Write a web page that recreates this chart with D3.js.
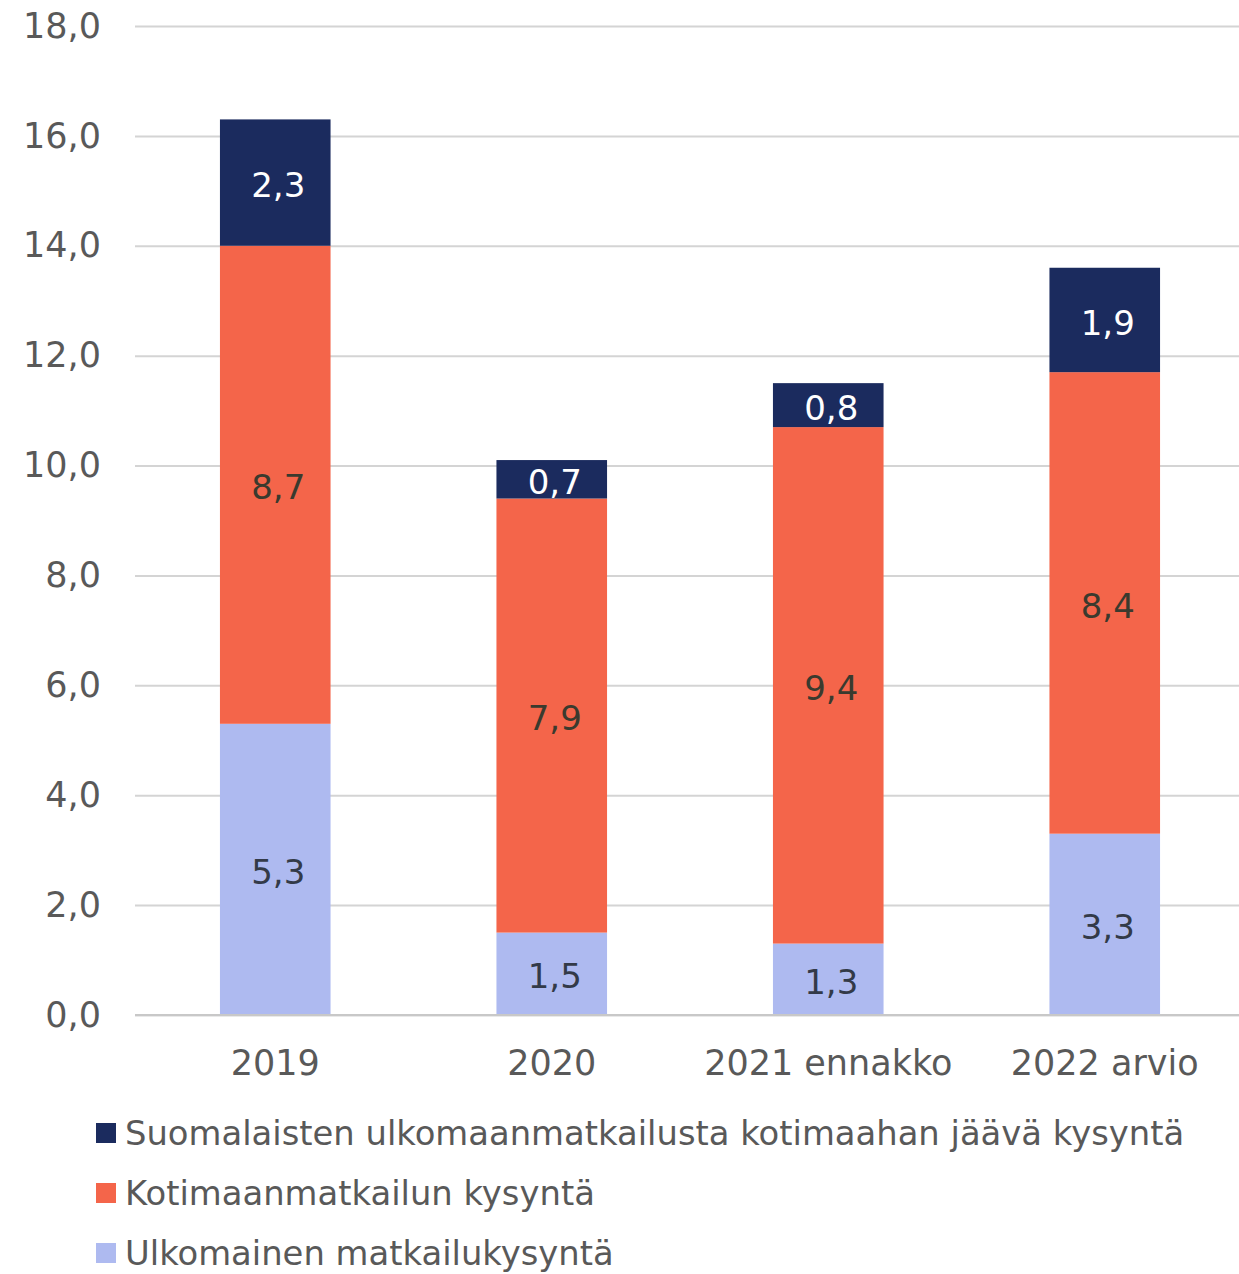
<!DOCTYPE html>
<html>
<head>
<meta charset="utf-8">
<script src="https://cdn.jsdelivr.net/npm/d3@7"></script>
<style>
  body { margin: 0; background: #fff; }
  svg { display: block; font-family: "DejaVu Sans", sans-serif; }
</style>
</head>
<body>
<div id="chart"></div>
<script>
// Data
const categories = ["2019", "2020", "2021 ennakko", "2022 arvio"];
const seriesNames = [
    "Ulkomainen matkailukysyntä",
    "Kotimaanmatkailun kysyntä",
    "Suomalaisten ulkomaanmatkailusta kotimaahan jäävä kysyntä"
];
const ulkomainen = [5.3, 1.5, 1.3, 3.3];
const kotimaan = [8.7, 7.9, 9.4, 8.4];
const jaava = [2.3, 0.7, 0.8, 1.9];
const yTicks = [0, 2, 4, 6, 8, 10, 12, 14, 16, 18];

const colors = ["#aebaf0", "#f4654a", "#1b2b5e"];
const labelColors = ["#333a48", "#3a3a2e", "#ffffff"];

const width = 1239;
const height = 1274;
const margin = { top: 26, right: 0, bottom: 259, left: 135 };

const rows = categories.map((c, i) => ({
    cat: c,
    s0: ulkomainen[i],
    s1: kotimaan[i],
    s2: jaava[i]
}));

const stack = d3.stack().keys(["s0", "s1", "s2"]);
const series = stack(rows);

const x = d3.scaleBand()
    .domain(categories)
    .range([margin.left + 2, width - margin.right + 4])
    .paddingInner(0.6)
    .paddingOuter(0.3);

const y = d3.scaleLinear()
    .domain([0, 18])
    .range([height - margin.bottom, margin.top]);

const fmt = v => d3.format(".1f")(v).replace(".", ",");

const svg = d3.select("#chart").append("svg")
    .attr("width", width)
    .attr("height", height)
    .attr("viewBox", [0, 0, width, height]);

// grid + y labels
svg.append("g")
    .attr("transform", `translate(${margin.left},0)`)
    .call(d3.axisLeft(y).tickValues(yTicks).tickFormat(fmt).tickSize(0).tickPadding(34))
    .call(g => g.select(".domain").remove())
    .call(g => g.selectAll(".tick text")
        .attr("font-size", 35)
        .attr("fill", "#595959")
        .attr("font-family", "DejaVu Sans, sans-serif"))
    .call(g => g.selectAll(".tick line")
        .attr("x2", width - margin.left - margin.right)
        .attr("stroke", "#d4d4d4")
        .attr("stroke-width", 2));

// bars
svg.append("g")
    .selectAll("g")
    .data(series)
    .join("g")
    .attr("fill", (d, i) => colors[i])
    .selectAll("rect")
    .data(d => d)
    .join("rect")
    .attr("x", d => x(d.data.cat))
    .attr("y", d => y(d[1]))
    .attr("height", d => y(d[0]) - y(d[1]))
    .attr("width", x.bandwidth());

// bar labels
svg.append("g")
    .selectAll("g")
    .data(series)
    .join("g")
    .attr("fill", (d, i) => labelColors[i])
    .selectAll("text")
    .data(d => d)
    .join("text")
    .attr("x", d => x(d.data.cat) + x.bandwidth() / 2 + 3)
    .attr("y", d => y((d[0] + d[1]) / 2))
    .attr("dy", "0.43em")
    .attr("text-anchor", "middle")
    .attr("font-size", 34)
    .text(d => fmt(d[1] - d[0]));

// baseline
svg.append("line")
    .attr("x1", margin.left)
    .attr("x2", width)
    .attr("y1", y(0))
    .attr("y2", y(0))
    .attr("stroke", "#c8c8c8")
    .attr("stroke-width", 2);

// x labels
svg.append("g")
    .attr("transform", `translate(0,${y(0)})`)
    .call(d3.axisBottom(x).tickSize(0).tickPadding(35))
    .call(g => g.select(".domain").remove())
    .call(g => g.selectAll(".tick text")
        .attr("font-size", 35)
        .attr("fill", "#595959")
        .attr("font-family", "DejaVu Sans, sans-serif"));

// legend
const legendOrder = [2, 1, 0];
const legend = svg.append("g")
    .selectAll("g")
    .data(legendOrder)
    .join("g")
    .attr("transform", (d, i) => `translate(96,${1133 + i * 60})`);

legend.append("rect")
    .attr("y", -10)
    .attr("width", 20)
    .attr("height", 20)
    .attr("fill", d => colors[d]);

legend.append("text")
    .attr("x", 29)
    .attr("dy", "0.34em")
    .attr("font-size", 33.8)
    .attr("fill", "#595959")
    .text(d => seriesNames[d]);
</script>
</body>
</html>
